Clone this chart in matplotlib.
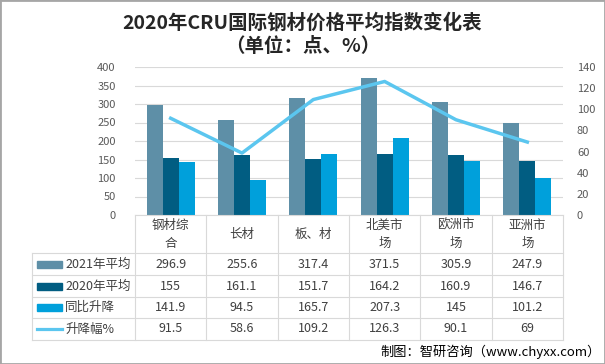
import numpy as np
import matplotlib.pyplot as plt
from matplotlib.transforms import blended_transform_factory
from matplotlib.patches import Rectangle
from matplotlib.lines import Line2D

plt.rcParams['font.family'] = ['Noto Sans CJK SC', 'DejaVu Sans']

# dados
categorias = ['钢材综\n合', '长材', '板、材', '北美市\n场', '欧洲市\n场', '亚洲市\n场']
avg2021 = [296.9, 255.6, 317.4, 371.5, 305.9, 247.9]
avg2020 = [155, 161.1, 151.7, 164.2, 160.9, 146.7]
diff = [141.9, 94.5, 165.7, 207.3, 145, 101.2]
pct = [91.5, 58.6, 109.2, 126.3, 90.1, 69]
nomes = ['2021年平均', '2020年平均', '同比升降', '升降幅%']

cores = ['#5e8fa7', '#015d82', '#00a0db', '#5bc6ef']
W, H = 605, 364

fig = plt.figure(figsize=(W / 100, H / 100), dpi=100)
ax = fig.add_axes([135 / W, 1 - 215 / H, 428 / W, 148 / H])

x = np.arange(len(categorias))
w = 0.225
ax.bar(x - w, avg2021, w, color=cores[0], zorder=2)
ax.bar(x, avg2020, w, color=cores[1], zorder=2)
ax.bar(x + w, diff, w, color=cores[2], zorder=2)
ax.set_xlim(-0.5, len(categorias) - 0.5)
ax.set_ylim(0, 400)
ax.set_yticks(range(0, 401, 50))
ax.grid(axis='y', color='#d9d9d9', linewidth=0.8, zorder=0)
ax.set_xticks([])
ax.tick_params(axis='y', length=0, labelsize=8, labelcolor='#595959', pad=14)
for s in ax.spines.values():
    s.set_visible(False)

ax2 = ax.twinx()
ax2.plot(x, pct, color=cores[3], linewidth=2.5, zorder=3)
ax2.set_ylim(0, 140)
ax2.set_yticks(range(0, 141, 20))
ax2.tick_params(axis='y', length=0, labelsize=8, labelcolor='#595959', pad=10)
for s in ax2.spines.values():
    s.set_visible(False)

# tabela de dados
tr = blended_transform_factory(ax.transData, fig.transFigure)
fy = lambda p: 1 - p / H
fx = lambda p: p / W
linhas_y = [215, 253, 275, 297, 318, 340]
cinza = '#d9d9d9'

# linhas verticais
for k in range(len(categorias) + 1):
    fig.add_artist(Line2D([k - 0.5, k - 0.5], [fy(215), fy(340)], transform=tr, color=cinza, lw=0.8))
fig.add_artist(Line2D([fx(32), fx(32)], [fy(253), fy(340)], color=cinza, lw=0.8))
# linhas horizontais
fig.add_artist(Line2D([-0.5, len(categorias) - 0.5], [fy(215), fy(215)], transform=tr, color=cinza, lw=0.8))
for yy in linhas_y[1:]:
    fig.add_artist(Line2D([fx(32), fx(135 + 428)], [fy(yy), fy(yy)], color=cinza, lw=0.8))

for i, c in enumerate(categorias):
    fig.text(i, fy(234), c, transform=tr, ha='center', va='center', fontsize=9,
             color='#404040', linespacing=1.5)

valores = [avg2021, avg2020, diff, pct]
for r, (nome, vals) in enumerate(zip(nomes, valores)):
    yc = fy((linhas_y[r + 1] + linhas_y[r + 2]) / 2)
    if r < 3:
        fig.add_artist(Rectangle((fx(37), yc - 3.5 / H), 25 / W, 7 / H, color=cores[r]))
    else:
        fig.add_artist(Line2D([fx(37), fx(62)], [yc, yc], color=cores[r], lw=2.3))
    fig.text(fx(65), yc, nome, ha='left', va='center', fontsize=9, color='#404040')
    for i, v in enumerate(vals):
        fig.text(i, yc, str(v), transform=tr, ha='center', va='center', fontsize=9, color='#404040')

# titulo
fig.text(0.5, fy(23), '2020年CRU国际钢材价格平均指数变化表', ha='center', va='center',
         fontsize=14, fontweight='bold', color='#262626')
fig.text(0.5, fy(47), '（单位：点、%）', ha='center', va='center',
         fontsize=14, fontweight='bold', color='#262626')

# fonte
fig.text(fx(601), fy(352), '制图：智研咨询（www.chyxx.com）', ha='right', va='center', fontsize=9.5, color='#000000')

fig.add_artist(Rectangle((0, 0), 1, 1, transform=fig.transFigure, fill=False, edgecolor='#a6a6a6', lw=2))

plt.savefig('out.png', dpi=100)
